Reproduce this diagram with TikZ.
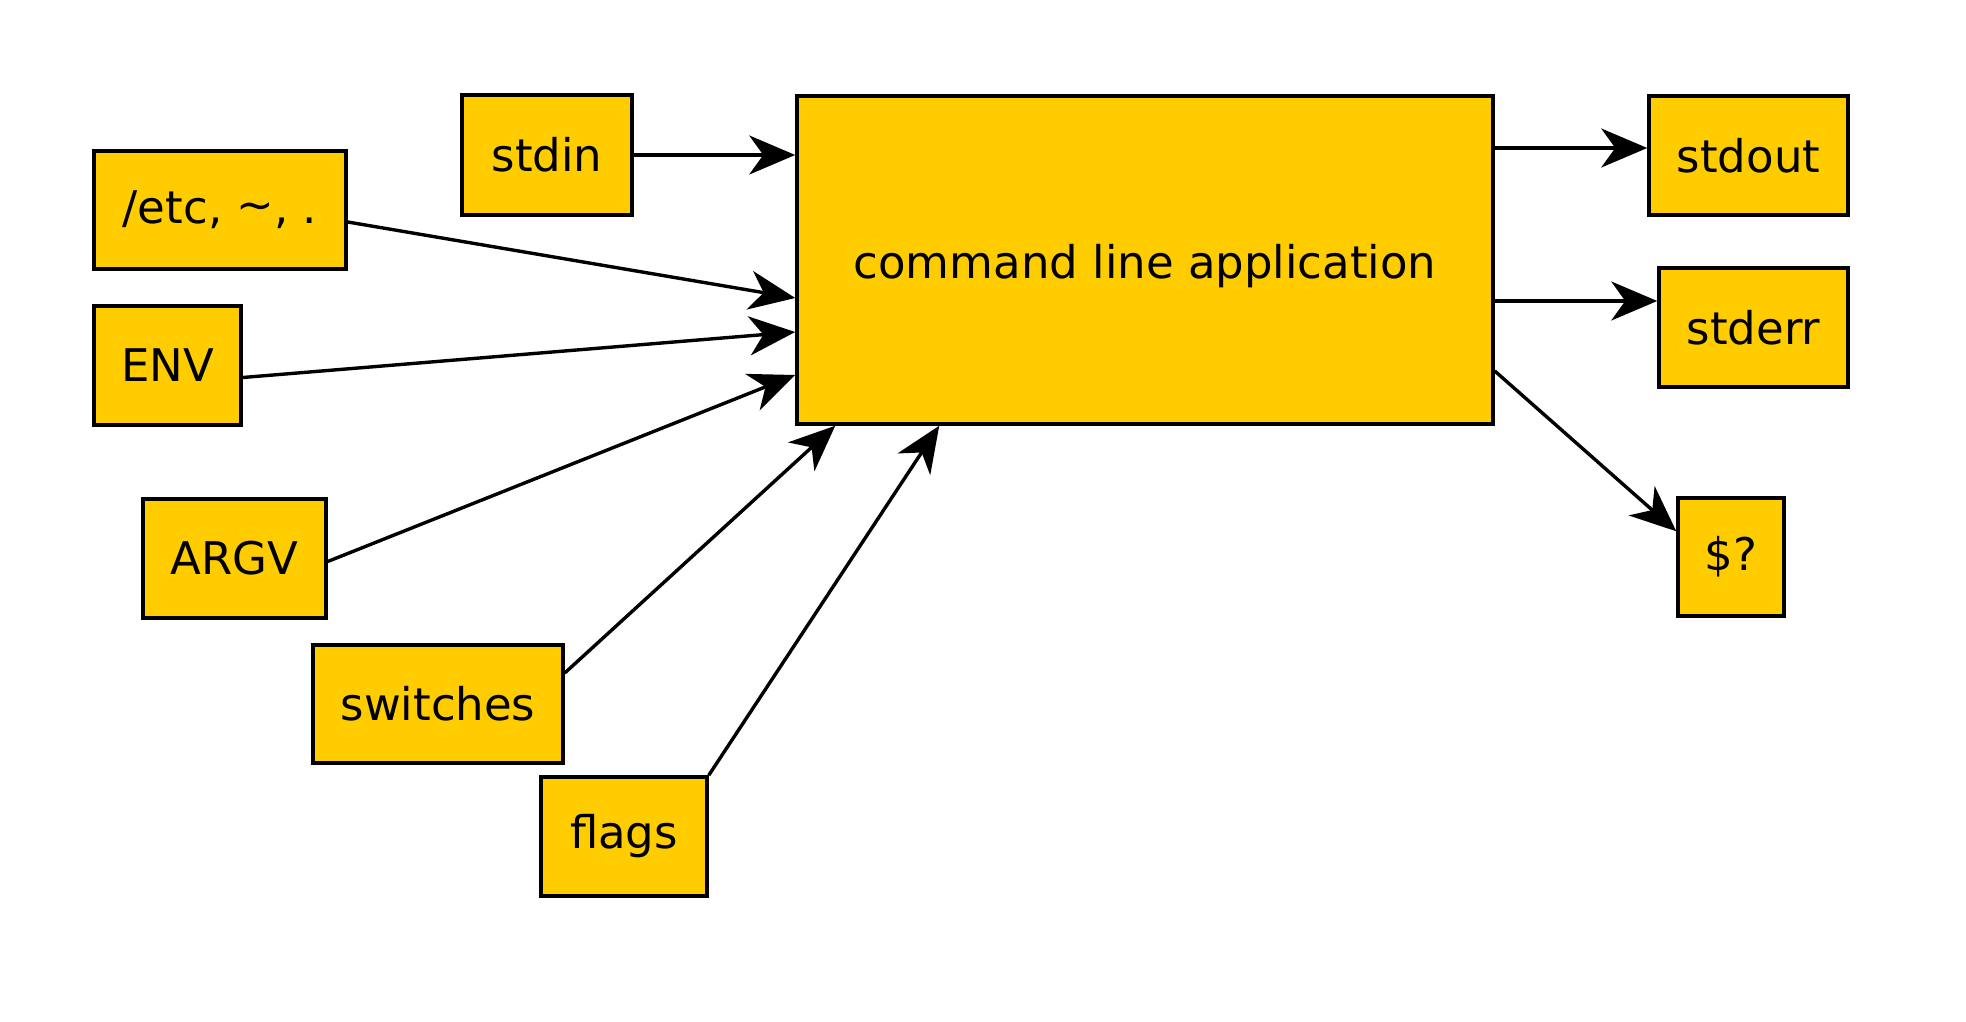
\documentclass[tikz,border=0pt]{standalone}
\usepackage{fontspec}
\setmainfont{DejaVu Sans}
\usetikzlibrary{arrows.meta,calc}
\definecolor{boxyellow}{RGB}{255,204,0}
\begin{document}
\begin{tikzpicture}[x=1pt,y=-1pt,
  box/.style={draw=black,fill=boxyellow,line width=3.5pt,inner sep=0pt,
    font=\fontsize{45}{54}\selectfont},
  conn/.style={line width=3.4pt,-{Stealth[length=46pt,width=39pt,inset=14pt]}}]
\useasboundingbox[fill=white] (0,0) rectangle (1966,1022);
\node[box,minimum width=696pt,minimum height=328pt] (main) at (1145,260) {};
\node[font=\fontsize{45}{54}\selectfont,inner sep=0pt] (maintext) at ($(main.center)+(0,6)$) {command line application};
\node[box,minimum width=170pt,minimum height=120pt] (stdin) at (547,155) {stdin};
\node[box,minimum width=252pt,minimum height=118pt] (etc) at (220,210) {/etc, \raisebox{0.15ex}{\char"007E}, .};
\node[box,minimum width=147pt,minimum height=119pt] (env) at (167.5,365.5) {ENV};
\node[box,minimum width=183pt,minimum height=119pt] (argv) at (234.5,558.5) {ARGV};
\node[box,minimum width=250pt,minimum height=118pt] (switches) at (438,704) {switches};
\node[box,minimum width=166pt,minimum height=119pt] (flags) at (624,836.5) {flags};
\node[box,minimum width=199pt,minimum height=119pt] (stdout) at (1748.5,155.5) {stdout};
\node[box,minimum width=189pt,minimum height=119pt] (stderr) at (1753.5,327.5) {stderr};
\node[box,minimum width=106pt,minimum height=118pt] (rc) at (1731,557) {\$?};
% connector end points
\coordinate (o1) at ($(main.east)+(0,-112)$);
\coordinate (o2) at ($(main.east)+(0,41)$);
\coordinate (o3) at ($(main.east)+(0,111)$);
% inputs
\draw[conn] (stdin.east) -- (stdin.east -| main.west);
\draw[conn] ($(etc.east)+(0,12)$) -- ($(main.west)+(0,38)$);
\draw[conn] ($(env.east)+(0,12)$) -- ($(main.west)+(0,72)$);
\draw[conn] ($(argv.east)+(0,3)$) -- ($(main.west)+(0,115)$);
\draw[conn] ($(switches.east)+(0,-31)$) -- ($(main.south west)+(40,0)$);
\draw[conn] (flags.north east) -- ($(main.south west)+(144,0)$);
% outputs
\draw[conn] (o1) -- (o1 -| stdout.west);
\draw[conn] (o2) -- (o2 -| stderr.west);
\draw[conn] (o3) -- ($(rc.north west)+(0,35)$);
\end{tikzpicture}
\end{document}
